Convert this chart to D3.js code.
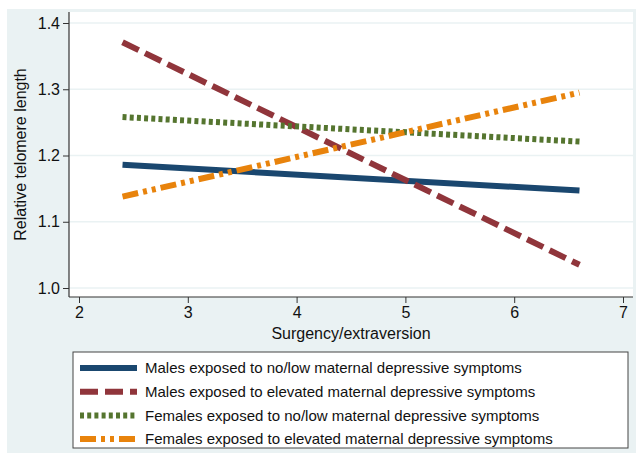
<!DOCTYPE html>
<html>
<head>
<meta charset="utf-8">
<script src="https://cdn.jsdelivr.net/npm/d3@7"></script>
<style>
  body { margin: 0; background: #fff; }
  svg { display: block; font-family: "Liberation Sans", Arial, sans-serif; }
</style>
</head>
<body>
<script>
// fitted lines, read at the two ends of the x range
const xEnds = [2.4, 6.6];
const malesLow = [1.186, 1.147];
const malesHigh = [1.371, 1.035];
const femalesLow = [1.258, 1.221];
const femalesHigh = [1.138, 1.295];
const seriesNames = [
  "Males exposed to no/low maternal depressive symptoms",
  "Males exposed to elevated maternal depressive symptoms",
  "Females exposed to no/low maternal depressive symptoms",
  "Females exposed to elevated maternal depressive symptoms"
];
const xTicks = [2, 3, 4, 5, 6, 7];
const yTicks = [1.0, 1.1, 1.2, 1.3, 1.4];

const W = 636, H = 453;
const svg = d3.select("body").append("svg")
  .attr("width", W)
  .attr("height", H);

// outer stata-like background
svg.append("rect")
  .attr("x", 7).attr("y", 9)
  .attr("width", W - 7).attr("height", H - 9)
  .attr("fill", "#eaf2f3");

const plot = { left: 69, right: 633, top: 12, bottom: 297 };

const x = d3.scaleLinear().domain([2, 7]).range([79, 623]);
const y = d3.scaleLinear().domain([1.0, 1.4]).range([288, 23]);

svg.append("rect")
  .attr("x", plot.left).attr("y", plot.top)
  .attr("width", plot.right - plot.left).attr("height", plot.bottom - plot.top)
  .attr("fill", "#fff");

// gridlines
svg.append("g")
  .selectAll("line")
  .data(yTicks)
  .join("line")
  .attr("x1", plot.left).attr("x2", plot.right)
  .attr("y1", d => y(d)).attr("y2", d => y(d))
  .attr("stroke", "#eaf2f3")
  .attr("stroke-width", 1.5);

// axes
const yAxis = d3.axisLeft(y).tickValues(yTicks).tickFormat(d3.format(".1f")).tickSize(6).tickSizeOuter(0);
const gy = svg.append("g")
  .attr("transform", `translate(${plot.left},0)`)
  .call(yAxis);
gy.select(".domain").attr("d", `M0,${plot.top}V${plot.bottom}`);

const xAxis = d3.axisBottom(x).tickValues(xTicks).tickFormat(d3.format("d")).tickSize(6).tickSizeOuter(0);
const gx = svg.append("g")
  .attr("transform", `translate(0,${plot.bottom})`)
  .call(xAxis);
gx.select(".domain").attr("d", `M${plot.left},0H${plot.right}`);

svg.selectAll(".domain").attr("stroke", "#333").attr("stroke-width", 1.2);
svg.selectAll(".tick line").attr("stroke", "#333");
svg.selectAll(".tick text")
  .attr("font-size", 16)
  .attr("fill", "#111")
  .attr("font-family", "Liberation Sans, Arial, sans-serif");
gy.selectAll(".tick text").attr("x", -9);
gx.selectAll(".tick text").attr("y", 10);

// axis titles
svg.append("text")
  .attr("x", 351)
  .attr("y", 339)
  .attr("text-anchor", "middle")
  .attr("font-size", 16)
  .attr("fill", "#111")
  .text("Surgency/extraversion");

svg.append("text")
  .attr("transform", `translate(26,${(plot.top + plot.bottom) / 2}) rotate(-90)`)
  .attr("text-anchor", "middle")
  .attr("font-size", 16)
  .attr("fill", "#111")
  .text("Relative telomere length");

// series
const series = [
  { name: seriesNames[0], vals: malesLow, color: "#1a476f", dash: null },
  { name: seriesNames[1], vals: malesHigh, color: "#90353b", dash: "18,7" },
  { name: seriesNames[2], vals: femalesLow, color: "#55752f", dash: "4,3.2" },
  { name: seriesNames[3], vals: femalesHigh, color: "#e8830c", dash: "16,5,4,5,4,5" }
];

const line = d3.line()
  .x((d, i) => x(xEnds[i]))
  .y(d => y(d));

svg.append("g")
  .selectAll("path")
  .data(series)
  .join("path")
  .attr("d", d => line(d.vals))
  .attr("fill", "none")
  .attr("stroke", d => d.color)
  .attr("stroke-width", 6)
  .attr("stroke-dasharray", d => d.dash);

// legend
const lg = svg.append("g");
lg.append("rect")
  .attr("x", 73).attr("y", 352)
  .attr("width", 555).attr("height", 96)
  .attr("fill", "#fff")
  .attr("stroke", "#444")
  .attr("stroke-width", 1);

const items = lg.selectAll("g.item")
  .data(series)
  .join("g")
  .attr("class", "item")
  .attr("transform", (d, i) => `translate(0,${368 + i * 23.7})`);

items.append("line")
  .attr("x1", 80).attr("x2", 137)
  .attr("stroke", d => d.color)
  .attr("stroke-width", 6)
  .attr("stroke-dasharray", d => d.dash);

items.append("text")
  .attr("x", 145)
  .attr("dy", "0.35em")
  .attr("font-size", 15)
  .attr("fill", "#111")
  .text(d => d.name);
</script>
</body>
</html>
